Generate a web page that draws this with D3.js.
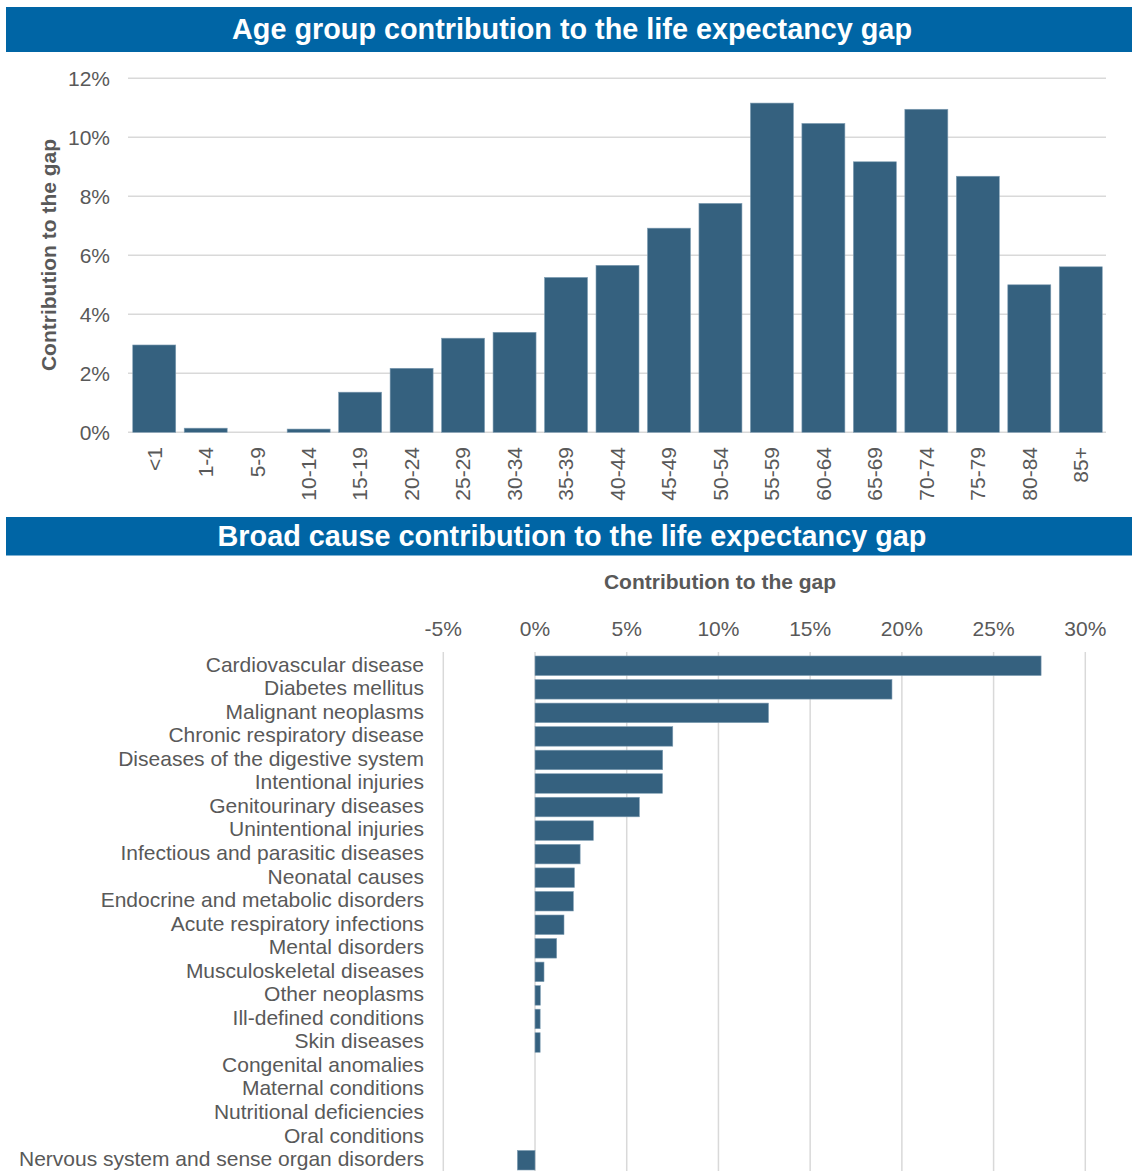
<!DOCTYPE html>
<html>
<head>
<meta charset="utf-8">
<script src="https://cdn.jsdelivr.net/npm/d3@7"></script>
<style>
  html, body { margin: 0; padding: 0; background: #fff; }
  svg { display: block; font-family: "Liberation Sans", Arial, sans-serif; }
</style>
</head>
<body>
<svg id="chart" width="1132" height="1171"></svg>
<script>
// Age group contributions (share of the gap, %)
const ageGroups = ["<1","1-4","5-9","10-14","15-19","20-24","25-29","30-34","35-39","40-44",
                   "45-49","50-54","55-59","60-64","65-69","70-74","75-79","80-84","85+"];
const ageValues = [2.96, 0.14, 0.0, 0.11, 1.36, 2.17, 3.19, 3.39, 5.25, 5.66,
                   6.92, 7.76, 11.16, 10.47, 9.17, 10.95, 8.68, 5.0, 5.61];
const ageTicks = [0, 2, 4, 6, 8, 10, 12];

// Broad cause contributions (share of the gap, %)
const causes = ["Cardiovascular disease","Diabetes mellitus","Malignant neoplasms",
  "Chronic respiratory disease","Diseases of the digestive system","Intentional injuries",
  "Genitourinary diseases","Unintentional injuries","Infectious and parasitic diseases",
  "Neonatal causes","Endocrine and metabolic disorders","Acute respiratory infections",
  "Mental disorders","Musculoskeletal diseases","Other neoplasms","Ill-defined conditions",
  "Skin diseases","Congenital anomalies","Maternal conditions","Nutritional deficiencies",
  "Oral conditions","Nervous system and sense organ disorders"];
const causeValues = [27.59, 19.46, 12.73, 7.51, 6.96, 6.95, 5.69, 3.18, 2.46, 2.15, 2.09,
  1.58, 1.18, 0.49, 0.29, 0.28, 0.28, 0, 0, 0, 0, -0.96];
const causeTicks = [-5, 0, 5, 10, 15, 20, 25, 30];

const titles = ["Age group contribution to the life expectancy gap",
                "Broad cause contribution to the life expectancy gap"];
const axisTitle = "Contribution to the gap";

const BAR = "#35617f", BANNER = "#0065a5", GRID = "#d9d9d9", TEXT = "#595959";
const pct = d => d3.format(".0f")(d).replace("\u2212", "-") + "%";
const svg = d3.select("#chart");

// Title banners
[{y: 7, h: 45, base: 38.5}, {y: 517, h: 38.5, base: 546}].forEach((b, i) => {
  svg.append("rect").attr("x", 6).attr("y", b.y).attr("width", 1126).attr("height", b.h)
    .attr("fill", BANNER);
  svg.append("text").attr("x", 572).attr("y", b.base).attr("text-anchor", "middle")
    .attr("fill", "#fff").attr("font-weight", "bold").attr("font-size", 28.8)
    .text(titles[i]);
});

// ---- Age group column chart ----
const ageRows = ageGroups.map((k, i) => ({k, v: ageValues[i]}));
const x1 = d3.scaleBand().domain(ageGroups).range([128.5, 1106.5]).paddingInner(0.165).paddingOuter(0.0825);
const y1 = d3.scaleLinear().domain([0, 12]).range([432.3, 78.3]);

const g1 = svg.append("g");
g1.append("g").selectAll("line").data(ageTicks).join("line")
  .attr("x1", 128).attr("x2", 1106)
  .attr("y1", d => y1(d)).attr("y2", d => y1(d))
  .attr("stroke", GRID).attr("stroke-width", 1.5);

g1.append("g").selectAll("text").data(ageTicks).join("text")
  .attr("x", 110).attr("y", d => y1(d)).attr("dy", "0.35em")
  .attr("text-anchor", "end").attr("fill", TEXT).attr("font-size", 21)
  .text(pct);

g1.append("g").selectAll("rect").data(ageRows.filter(r => r.v > 0)).join("rect")
  .attr("x", r => x1(r.k))
  .attr("width", x1.bandwidth())
  .attr("y", r => y1(r.v))
  .attr("height", r => y1(0) - y1(r.v))
  .attr("fill", BAR).attr("stroke", "#7f9db3").attr("stroke-width", 0.6);

g1.append("g").selectAll("text").data(ageGroups).join("text")
  .attr("transform", d => `translate(${x1(d) + x1.bandwidth() / 2},447) rotate(-90)`)
  .attr("dy", "0.35em").attr("text-anchor", "end")
  .attr("fill", TEXT).attr("font-size", 21)
  .text(d => d);

g1.append("text")
  .attr("transform", "translate(49,255) rotate(-90)")
  .attr("dy", "0.35em").attr("text-anchor", "middle")
  .attr("fill", TEXT).attr("font-size", 21).attr("font-weight", "bold")
  .text(axisTitle);

// ---- Broad cause bar chart ----
const causeRows = causes.map((k, i) => ({k, v: causeValues[i]}));
const x2 = d3.scaleLinear().domain([-5, 30]).range([443.3, 1085.3]);
const y2 = d3.scaleBand().domain(causes).range([654, 1172]).paddingInner(0.17).paddingOuter(0.085);

const g2 = svg.append("g");
g2.append("g").selectAll("line").data(causeTicks).join("line")
  .attr("x1", d => x2(d)).attr("x2", d => x2(d))
  .attr("y1", 652).attr("y2", 1171)
  .attr("stroke", GRID).attr("stroke-width", 1.5);

g2.append("g").selectAll("text").data(causeTicks).join("text")
  .attr("x", d => x2(d)).attr("y", 629).attr("dy", "0.35em")
  .attr("text-anchor", "middle").attr("fill", TEXT).attr("font-size", 21)
  .text(pct);

g2.append("text").attr("x", 720).attr("y", 582).attr("dy", "0.35em")
  .attr("text-anchor", "middle").attr("fill", TEXT)
  .attr("font-size", 21).attr("font-weight", "bold")
  .text(axisTitle);

g2.append("g").selectAll("rect").data(causeRows.filter(r => r.v !== 0)).join("rect")
  .attr("x", r => x2(Math.min(0, r.v)))
  .attr("width", r => Math.abs(x2(r.v) - x2(0)))
  .attr("y", r => y2(r.k))
  .attr("height", y2.bandwidth())
  .attr("fill", BAR).attr("stroke", "#7f9db3").attr("stroke-width", 0.6);

g2.append("g").selectAll("text").data(causes).join("text")
  .attr("x", 424).attr("y", d => y2(d) + y2.bandwidth() / 2 - 1.5).attr("dy", "0.35em")
  .attr("text-anchor", "end").attr("fill", TEXT).attr("font-size", 21)
  .text(d => d);
</script>
</body>
</html>
